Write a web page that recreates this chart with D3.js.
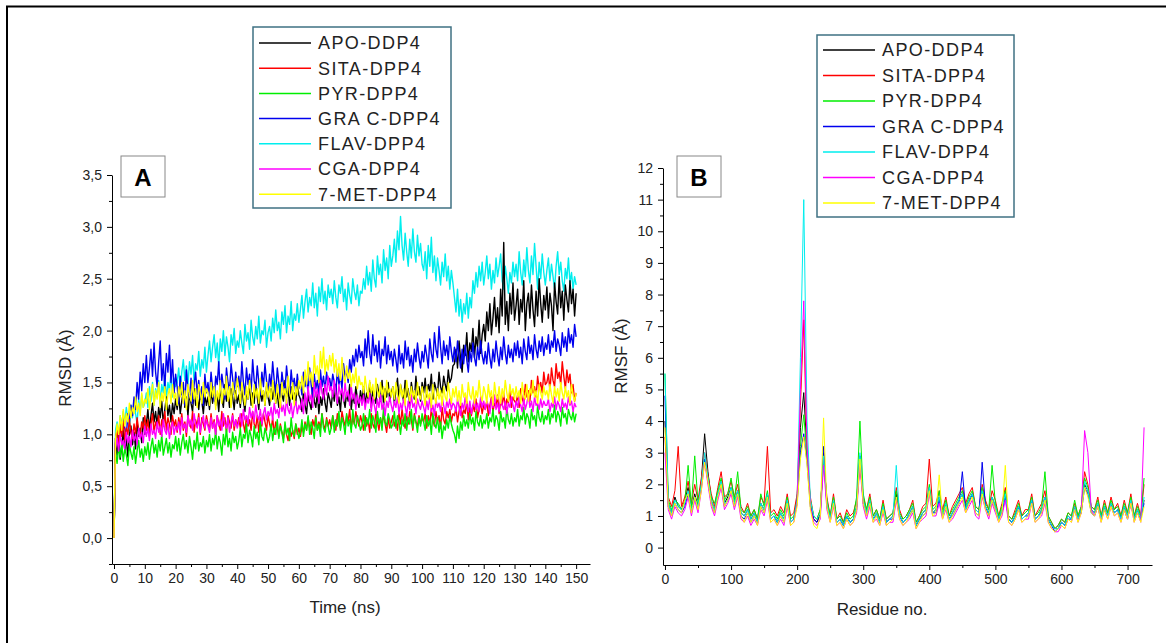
<!DOCTYPE html>
<html>
<head>
<meta charset="utf-8">
<script src="https://cdn.jsdelivr.net/npm/d3@7"></script>
<style>
  body { margin: 0; background: #fff; }
  svg { display: block; font-family: "Liberation Sans", Arial, sans-serif; }
  .tick text { fill: #222; }
</style>
</head>
<body>
<svg id="chart" width="1166" height="643"></svg>
<script>
// ---- data ----
const seriesNames = ["APO-DDP4", "SITA-DPP4", "PYR-DPP4", "GRA C-DPP4", "FLAV-DPP4", "CGA-DPP4", "7-MET-DPP4"];
const seriesColors = ["#000000", "#ff0000", "#00ee00", "#0000ee", "#00eeee", "#ff00ff", "#ffff00"];

// panel A: RMSD every 0.5 ns, values in 0.01 Å
const timeNs = d3.range(0, 150.01, 0.5);
const rmsdApo = [0,
  92,80,98,76,88,104,84,96,78,100,108,90,102,86,112,98,106,92,116,100,
  110,124,104,118,130,112,122,108,126,116,132,110,124,136,118,128,112,130,120,134,
  124,138,120,132,142,126,136,118,140,130,122,144,128,136,124,140,132,120,138,128,
  136,124,142,130,146,128,138,122,144,134,126,148,132,140,126,144,136,124,142,130,
  138,126,146,132,122,142,134,148,128,140,130,150,136,124,144,132,142,128,146,136,
  128,144,134,150,130,140,126,148,138,132,152,136,144,128,146,134,140,130,150,138,
  134,122,142,128,120,138,130,124,146,132,126,140,120,136,128,144,130,122,140,134,
  126,142,132,148,128,136,122,144,134,126,140,132,148,124,138,130,146,134,126,142,
  132,146,128,140,134,150,126,142,136,130,148,138,132,152,128,144,136,150,132,140,
  146,130,142,154,134,148,140,132,152,136,144,128,150,140,134,156,138,146,132,150,
  140,154,136,148,142,158,134,150,144,138,160,146,140,156,148,142,162,150,154,166,
  168,182,164,190,172,160,186,176,198,170,188,180,202,174,194,184,210,178,196,206,
  190,218,200,226,196,212,232,204,222,198,240,214,285,206,228,200,236,216,246,210,
  224,240,206,230,218,248,200,226,236,212,244,220,204,238,214,250,226,208,234,220,
  242,212,236,224,200,246,228,216,252,222,238,210,244,230,218,248,226,240,214,236];
const rmsdSita = [0,
  96,104,90,108,98,112,94,106,100,114,102,96,110,100,116,104,98,112,106,118,
  104,114,98,110,120,102,112,106,118,100,114,108,122,104,116,110,100,118,108,114,
  102,116,108,120,104,112,98,118,110,106,122,102,114,108,120,100,116,110,104,118,
  110,104,120,106,114,100,118,110,104,122,108,116,102,118,112,106,120,104,114,108,
  116,106,120,110,102,118,108,114,104,122,110,106,118,102,116,108,120,112,104,118,
  110,104,116,100,112,106,98,110,102,96,108,100,94,106,98,104,96,110,100,106,
  98,108,102,112,104,116,106,100,114,108,118,104,112,106,120,110,104,116,108,114,
  106,118,110,104,120,112,106,122,114,108,118,112,124,106,116,110,122,114,108,118,
  112,104,118,108,114,102,120,110,106,122,112,104,116,108,120,110,102,116,106,112,
  118,108,114,104,120,110,124,112,106,118,110,122,114,104,120,112,108,118,110,116,
  112,120,106,118,110,124,114,108,122,112,118,106,126,114,110,122,116,124,112,120,
  118,126,112,122,130,116,124,120,132,114,126,118,128,122,134,116,124,130,120,128,
  124,132,118,128,136,122,130,126,138,120,132,128,140,124,134,130,142,126,136,132,
  130,138,126,144,134,130,148,136,142,132,152,140,146,136,156,144,150,140,160,148,
  150,158,142,164,152,146,168,154,160,148,170,156,144,162,150,158,140,148,132,140];
const rmsdPyr = [0,
  84,72,88,78,92,74,86,80,70,90,82,76,88,72,84,94,78,86,74,88,
  80,92,76,88,96,82,90,78,94,84,100,80,88,96,82,92,78,90,86,98,
  84,96,80,92,100,86,94,82,98,88,76,94,86,102,84,92,88,98,82,94,
  88,100,84,96,90,104,86,98,92,80,100,90,106,88,96,84,102,92,98,86,
  94,106,88,100,96,110,92,104,98,88,108,96,102,90,112,98,94,106,100,92,
  98,110,94,106,100,114,96,108,102,92,112,100,106,94,116,102,98,110,104,96,
  102,114,98,110,104,118,100,112,106,96,116,104,110,98,120,106,102,114,108,100,
  106,118,102,114,108,122,104,116,110,100,120,108,114,102,124,110,106,118,112,104,
  108,120,104,116,110,124,106,118,112,102,122,110,116,104,126,112,108,120,114,106,
  110,122,106,118,112,100,114,108,120,104,116,110,124,106,118,112,102,116,108,120,
  112,104,118,108,114,100,120,110,106,116,102,112,96,108,104,114,106,118,110,104,
  100,92,108,96,112,104,118,108,114,106,120,110,116,104,122,112,108,118,106,114,
  110,120,106,116,112,124,108,118,114,104,122,112,116,106,126,114,110,120,108,116,
  112,124,108,118,114,126,110,120,116,106,124,114,118,108,128,116,112,122,110,118,
  114,124,110,120,116,128,112,122,118,108,126,116,120,110,124,118,114,122,112,120];
const rmsdGra = [0,
  96,104,92,110,100,116,106,98,120,112,128,118,136,124,150,134,160,142,168,150,
  176,150,164,182,156,188,160,146,170,190,152,168,144,178,160,186,150,172,140,158,
  146,130,156,138,150,128,162,142,136,154,130,148,160,138,152,134,146,128,158,140,
  150,136,160,144,132,156,148,170,140,158,146,134,164,150,142,168,154,138,160,146,
  156,142,170,150,138,164,148,158,140,172,152,144,166,150,138,160,146,168,152,140,
  158,146,170,152,140,164,150,136,160,148,142,166,150,138,162,146,154,140,158,144,
  150,138,160,146,154,140,164,148,136,158,144,152,138,162,146,156,142,160,148,154,
  144,158,150,140,162,148,156,144,168,154,162,150,172,160,176,166,182,170,186,174,
  180,166,192,174,200,178,168,196,176,186,170,190,164,182,176,194,168,186,172,180,
  166,182,172,160,186,168,178,164,190,172,184,166,176,160,182,170,188,174,164,180,
  170,186,176,164,192,178,170,198,182,174,204,184,168,190,176,186,172,194,180,170,
  184,170,190,176,164,182,168,186,172,160,180,170,188,174,166,184,172,190,176,168,
  180,168,188,174,164,182,170,190,176,166,184,172,194,178,168,186,174,182,170,188,
  176,190,174,184,168,192,180,172,194,178,186,172,196,182,174,190,180,194,176,188,
  182,196,178,190,184,200,180,192,186,176,198,184,194,180,202,188,196,184,206,194];
const rmsdFlav = [0,
  104,112,98,118,108,122,110,126,114,104,128,116,132,120,110,134,122,138,126,130,
  140,126,146,132,150,128,144,136,152,130,148,140,156,134,150,142,160,136,154,146,
  150,164,144,160,172,152,166,148,170,158,176,150,168,162,180,156,172,164,184,160,
  176,190,170,184,196,174,188,166,192,180,200,176,194,184,170,196,186,202,178,190,
  184,200,188,178,206,190,198,182,210,194,186,204,192,214,188,200,196,210,184,198,
  204,190,212,198,220,200,208,192,218,206,224,198,214,206,228,200,216,210,226,208,
  220,234,212,228,240,218,232,224,246,222,236,214,242,228,250,226,238,220,244,232,
  240,226,248,232,222,244,236,252,228,240,220,246,234,226,250,238,230,244,224,238,
  236,250,240,262,244,256,238,268,250,242,272,254,264,246,278,258,270,250,282,262,
  272,288,266,296,278,310,282,268,294,276,262,288,270,298,276,266,292,272,284,264,
  258,276,250,282,262,290,256,272,248,270,258,244,266,252,274,248,262,240,258,246,
  232,218,240,214,230,208,226,216,236,212,232,222,248,236,256,242,262,248,266,244,
  256,272,250,264,240,258,246,270,252,262,274,248,240,262,250,236,256,246,266,252,
  264,248,276,256,244,268,252,280,258,246,272,254,284,262,240,266,250,274,256,244,
  258,270,248,264,252,240,262,276,254,266,248,238,260,250,270,246,256,240,252,244];
const rmsdCga = [0,
  88,96,84,100,90,94,86,102,92,98,88,104,94,100,90,106,96,102,92,108,
  98,106,94,110,100,104,96,112,102,108,98,114,104,100,110,96,106,112,100,108,
  104,112,100,116,106,110,102,118,108,114,104,120,110,106,116,102,112,118,106,114,
  108,102,116,106,112,100,118,108,114,104,120,110,106,116,102,112,118,108,114,106,
  112,120,108,124,114,118,110,126,116,122,112,128,118,114,124,110,120,126,114,122,
  118,126,114,130,120,124,116,132,122,128,118,134,124,120,130,116,126,132,120,128,
  124,134,120,140,128,146,132,138,126,150,136,144,130,152,140,134,148,138,156,142,
  146,136,152,140,130,148,138,144,132,150,136,142,128,146,134,140,124,138,130,136,
  128,138,124,134,130,140,122,136,128,120,134,126,138,124,130,118,132,126,136,128,
  122,132,126,136,120,130,124,134,128,118,132,124,138,126,130,120,134,128,124,132,
  126,120,132,124,136,122,128,118,134,126,130,122,136,128,120,132,126,134,124,130,
  128,122,134,126,118,130,124,136,128,122,132,120,128,134,124,130,122,136,126,132,
  124,132,128,120,134,126,138,124,130,122,136,128,124,132,120,130,126,136,128,122,
  132,126,136,128,122,134,124,130,138,126,132,122,136,128,130,124,134,126,132,128,
  128,134,122,130,126,136,124,132,128,122,134,126,130,124,136,128,132,122,130,126];
const rmsdMet = [0,
  96,110,100,118,104,124,108,120,112,130,116,126,120,136,122,130,118,140,126,134,
  130,144,124,138,148,128,142,134,150,126,140,132,146,124,138,144,130,148,134,140,
  128,146,136,150,130,142,124,148,138,132,152,134,144,126,148,140,130,150,136,144,
  140,128,150,136,146,124,142,134,152,130,144,138,156,132,146,126,150,140,134,154,
  144,130,150,138,128,146,134,152,140,126,148,136,144,130,154,138,142,128,150,136,
  146,132,152,140,130,148,136,126,150,138,144,130,156,140,134,150,128,146,138,152,
  144,156,140,162,148,170,152,160,146,176,158,166,150,180,164,184,158,172,162,176,
  166,178,160,172,156,168,152,174,158,150,166,154,162,146,158,150,164,144,156,148,
  150,140,156,144,136,152,140,148,134,154,142,136,150,138,146,132,152,140,144,136,
  146,134,150,138,130,148,136,144,128,152,140,132,146,136,142,130,150,138,134,146,
  138,128,146,134,140,126,148,136,130,144,134,142,128,146,136,132,150,138,130,144,
  136,146,132,142,128,148,136,140,130,150,138,134,146,130,142,136,152,138,132,146,
  140,130,148,136,142,128,150,138,134,146,130,144,136,152,140,132,148,138,144,134,
  146,136,142,130,150,138,134,148,132,144,138,152,136,142,130,148,140,134,146,138,
  142,134,148,138,130,146,136,144,132,150,140,134,146,136,142,130,148,138,132,140];

// panel B: RMSF every 5 residues, values in 0.1 Å
const residues = d3.range(0, 730, 5);
const rmsfApo = [
  40,14,11,16,13,12,15,19,12,17, 13,21,36,24,15,12,17,21,14,16,
  19,14,18,11,10,12,9,11,8,14, 12,17,9,10,8,11,9,15,8,9,
  16,38,49,30,14,9,8,11,30,14, 9,15,8,9,7,10,8,9,13,27,
  15,11,15,9,11,8,13,8,9,10, 17,10,8,9,11,13,7,9,11,12,
  19,11,12,16,10,14,9,11,13,15, 17,12,15,17,12,11,18,13,11,16,
  13,9,12,17,9,8,10,13,9,10, 11,15,9,10,12,16,9,7,6,6,
  8,7,10,9,13,9,12,20,18,12, 11,14,9,13,10,14,11,12,9,13,
  10,15,9,12,9,15];
const rmsfSita = [
  35,16,13,18,32,13,16,21,14,20, 15,22,30,23,17,13,19,24,16,17,
  21,16,20,13,11,14,10,12,9,16, 14,32,11,12,10,13,11,17,10,11,
  17,45,72,28,16,10,9,12,28,16, 10,17,9,11,8,12,10,11,15,29,
  16,12,17,10,12,9,15,9,10,11, 19,12,9,10,12,15,8,10,13,14,
  28,13,14,18,12,16,10,13,15,17, 19,14,17,19,13,12,20,15,12,18,
  15,10,14,19,10,9,12,15,10,12, 12,17,10,12,14,18,10,8,6,7,
  9,8,11,10,14,10,13,24,20,13, 12,16,10,15,11,16,12,14,10,15,
  11,17,10,14,10,20];
const rmsfPyr = [
  55,15,12,15,14,12,14,26,13,29, 14,20,28,22,16,14,18,22,15,17,
  22,15,24,12,11,13,10,12,9,17, 13,18,10,11,9,12,10,16,9,10,
  15,32,42,29,15,10,9,12,27,15, 10,16,9,10,8,11,9,10,16,40,
  17,12,16,10,12,9,14,9,10,11, 18,11,9,10,12,14,8,10,12,13,
  20,12,13,18,11,15,10,12,14,16, 18,13,16,18,13,12,19,14,12,26,
  14,10,13,18,10,9,11,14,10,11, 12,16,10,11,13,24,10,8,6,7,
  9,8,11,10,15,10,13,22,19,13, 12,15,10,14,11,15,12,13,10,14,
  11,16,10,13,10,22];
const rmsfGra = [
  48,13,10,14,12,11,13,17,11,16, 12,19,28,21,14,11,16,20,13,15,
  18,13,17,10,9,11,8,10,8,13, 11,16,9,10,8,10,8,14,8,9,
  14,30,36,27,13,9,8,10,32,13, 9,14,8,9,7,10,8,9,12,29,
  14,10,14,9,10,8,12,8,9,9, 16,10,8,9,10,12,7,9,10,11,
  18,11,11,15,10,13,9,10,12,14, 24,12,14,17,11,10,27,13,10,15,
  12,9,11,16,9,8,10,13,9,10, 10,15,9,10,11,16,9,7,5,6,
  8,7,9,9,12,9,11,19,17,11, 10,13,9,12,10,13,11,12,9,12,
  9,14,9,11,9,14];
const rmsfFlav = [
  55,14,11,15,13,12,14,18,12,16, 13,20,30,22,15,12,17,21,14,15,
  19,14,18,11,10,12,9,11,8,14, 12,17,9,10,8,11,9,15,8,9,
  15,60,110,40,15,10,9,11,29,14, 9,15,8,9,7,10,8,9,13,30,
  15,11,15,9,11,8,13,8,9,10, 26,10,8,9,11,13,7,9,11,12,
  19,11,12,16,10,14,9,11,13,15, 17,12,15,17,12,11,18,13,11,16,
  13,9,12,17,9,8,10,13,9,10, 11,15,9,10,12,16,9,7,6,6,
  8,7,10,9,13,9,12,21,18,12, 11,14,9,13,10,14,11,12,9,13,
  10,15,9,12,9,16];
const rmsfCga = [
  30,12,9,13,11,10,12,16,10,15, 11,18,27,20,13,10,15,19,12,14,
  17,12,16,9,8,10,7,9,7,12, 10,15,8,9,7,9,7,13,7,8,
  14,50,78,32,13,8,7,9,26,12, 8,13,7,8,6,9,7,8,11,26,
  13,9,13,8,9,7,11,7,8,8, 15,9,7,8,9,11,6,8,9,10,
  17,10,10,14,9,12,8,9,11,13, 15,11,13,15,10,9,16,12,9,14,
  11,8,10,15,8,7,9,12,8,9, 9,14,8,9,10,14,8,6,5,5,
  7,6,9,8,12,8,11,37,30,12, 10,13,8,12,9,13,10,11,8,12,
  9,14,8,11,8,38];
const rmsfMet = [
  38,13,10,14,12,11,15,17,11,16, 12,18,27,21,14,11,16,20,13,15,
  18,13,17,10,8,11,8,10,7,13, 11,16,8,9,7,10,8,14,7,8,
  13,28,35,26,12,7,6,10,41,13, 8,14,7,8,6,9,7,8,12,28,
  14,10,14,8,10,7,12,7,8,9, 16,9,7,8,10,12,6,8,10,11,
  18,10,11,23,9,13,8,10,12,14, 16,11,14,16,11,10,17,12,10,15,
  12,8,11,26,8,7,9,12,8,9, 10,14,8,9,11,15,8,6,5,6,
  7,6,9,8,12,8,11,19,16,11, 10,13,8,12,9,13,10,11,8,12,
  9,14,8,11,8,13];

const rmsdTicks = [0, 0.5, 1, 1.5, 2, 2.5, 3, 3.5];
const timeTicks = d3.range(0, 151, 10);
const rmsfTicks = d3.range(0, 13, 1);
const residueTicks = d3.range(0, 701, 100);

const rmsdSeries = [rmsdApo, rmsdSita, rmsdPyr, rmsdGra, rmsdFlav, rmsdCga, rmsdMet];
const rmsfSeries = [rmsfApo, rmsfSita, rmsfPyr, rmsfGra, rmsfFlav, rmsfCga, rmsfMet];

const svg = d3.select("#chart");

// frame of the figure (top and left edges show in the crop)
svg.append("line").attr("x1", 6).attr("x2", 1166).attr("y1", 6.5).attr("y2", 6.5)
  .attr("stroke", "#000").attr("stroke-width", 2);
svg.append("line").attr("x1", 7).attr("x2", 7).attr("y1", 6).attr("y2", 643)
  .attr("stroke", "#000").attr("stroke-width", 2);

const commaFmt = (d) => d3.format(".1f")(d).replace(".", ",");

function drawAxes(x, y, cfg) {
  // minor ticks first, major axis on top
  svg.append("g").attr("transform", `translate(0,${y.range()[0]})`)
    .call(d3.axisBottom(x).tickValues(cfg.xMinor).tickSize(3).tickFormat(""))
    .call((g) => g.select(".domain").remove());
  svg.append("g").attr("transform", `translate(${x.range()[0]},0)`)
    .call(d3.axisLeft(y).tickValues(cfg.yMinor).tickSize(3).tickFormat(""))
    .call((g) => g.select(".domain").remove());

  const gx = svg.append("g").attr("transform", `translate(0,${y.range()[0]})`)
    .call(d3.axisBottom(x).tickValues(cfg.xTicks).tickSize(5).tickSizeOuter(0).tickPadding(4));
  gx.selectAll("text").attr("font-size", 14).attr("font-family", null);

  const gy = svg.append("g").attr("transform", `translate(${x.range()[0]},0)`)
    .call(d3.axisLeft(y).tickValues(cfg.yTicks).tickSize(5).tickSizeOuter(0).tickPadding(5)
      .tickFormat(cfg.yFormat));
  gy.selectAll("text").attr("font-size", 14).attr("font-family", null);

  svg.selectAll(".domain, .tick line").attr("stroke", "#000");
}

function drawLegend(x0, y0, w, h, rowY, rowGap) {
  const g = svg.append("g");
  g.append("rect").attr("x", x0).attr("y", y0).attr("width", w).attr("height", h)
    .attr("fill", "#fff").attr("stroke", "#3f7183").attr("stroke-width", 1.5);
  seriesNames.forEach((name, i) => {
    const yy = rowY + i * rowGap;
    g.append("line").attr("x1", x0 + 6).attr("x2", x0 + 58).attr("y1", yy).attr("y2", yy)
      .attr("stroke", seriesColors[i]).attr("stroke-width", 1.5);
    g.append("text").attr("x", x0 + 65).attr("y", yy).attr("dy", "0.36em")
      .attr("font-size", 18).attr("letter-spacing", 1.4).attr("fill", "#222").text(name);
  });
}

function panelTag(x0, y0, label) {
  svg.append("rect").attr("x", x0).attr("y", y0).attr("width", 44).attr("height", 41)
    .attr("fill", "#fff").attr("stroke", "#888").attr("stroke-width", 1);
  svg.append("text").attr("x", x0 + 22).attr("y", y0 + 21).attr("dy", "0.36em")
    .attr("text-anchor", "middle").attr("font-size", 24).attr("font-weight", "bold")
    .attr("fill", "#000").text(label);
}

// ---- panel A: RMSD ----
const xA = d3.scaleLinear().domain([-0.65, 154.5]).range([112, 590]);
const yA = d3.scaleLinear().domain([-0.25, 3.5]).range([564, 175]);

const lineA = d3.line().x((d, i) => xA(timeNs[i])).y((d) => yA(d / 100));
const orderA = [4, 0, 3, 1, 2, 5, 6];
orderA.forEach((k) => {
  svg.append("path").datum(rmsdSeries[k].slice(0, timeNs.length)).attr("d", lineA)
    .attr("fill", "none").attr("stroke", seriesColors[k]).attr("stroke-width", 1.4)
    .attr("stroke-linejoin", "round");
});

drawAxes(xA, yA, {
  xTicks: timeTicks, xMinor: d3.range(5, 151, 10),
  yTicks: rmsdTicks, yMinor: [-0.25, 0.25, 0.75, 1.25, 1.75, 2.25, 2.75, 3.25],
  yFormat: commaFmt,
});

svg.append("text").attr("x", 345).attr("y", 613).attr("text-anchor", "middle")
  .attr("font-size", 17).attr("fill", "#222").text("Time (ns)");
svg.append("text").attr("transform", "translate(71,368) rotate(-90)")
  .attr("text-anchor", "middle").attr("font-size", 17).attr("fill", "#222").text("RMSD (Å)");

drawLegend(253, 27, 198, 181, 43, 25.2);
panelTag(121, 156, "A");

// ---- panel B: RMSF ----
const xB = d3.scaleLinear().domain([-3, 737]).range([663, 1152]);
const yB = d3.scaleLinear().domain([-0.55, 12]).range([565, 168]);

const lineB = d3.line().x((d, i) => xB(residues[i])).y((d) => yB(d / 10));
rmsfSeries.forEach((vals, k) => {
  svg.append("path").datum(vals).attr("d", lineB)
    .attr("fill", "none").attr("stroke", seriesColors[k]).attr("stroke-width", 1)
    .attr("stroke-linejoin", "round");
});

drawAxes(xB, yB, {
  xTicks: residueTicks, xMinor: d3.range(50, 751, 100).filter((d) => d < 737),
  yTicks: rmsfTicks, yMinor: d3.range(0.5, 12, 1),
  yFormat: d3.format("d"),
});

svg.append("text").attr("x", 882).attr("y", 615).attr("text-anchor", "middle")
  .attr("font-size", 17).attr("fill", "#222").text("Residue no.");
svg.append("text").attr("transform", "translate(627,356) rotate(-90)")
  .attr("text-anchor", "middle").attr("font-size", 17).attr("fill", "#222").text("RMSF (Å)");

drawLegend(817, 35, 197, 182, 50, 25.5);
panelTag(677, 156, "B");
</script>
</body>
</html>
